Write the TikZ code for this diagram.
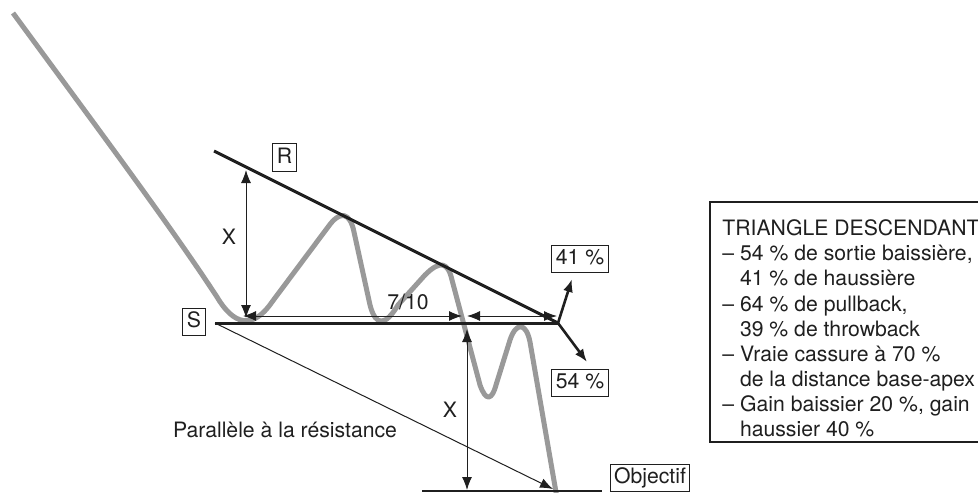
\documentclass[tikz,border=0pt]{standalone}
\usepackage{fontspec}
\setmainfont{TeX Gyre Heros}
\usepackage{xcolor}
\usetikzlibrary{arrows.meta,positioning}

\definecolor{pricegray}{gray}{0.6}
\definecolor{inkblack}{gray}{0.12}

\begin{document}
\begin{tikzpicture}[x=0.5pt,y=-0.5pt,color=inkblack,
  font=\fontsize{10.6}{12.55}\selectfont,
  >={Latex[length=6.5pt,width=5pt]},
  tag/.style={draw,line width=0.5pt,inner xsep=2pt,inner ysep=2pt,text height=7.6pt,text depth=2pt},
  dim/.style={line width=0.5pt,<->},
  trend/.style={line width=1.5pt},
  exit/.style={line width=1.3pt,->}]
  \useasboundingbox (0,0) rectangle (978,492);
  \clip (0,0) rectangle (978,492);

  % points of the figure
  \coordinate (res0) at (214,151);
  \coordinate (apex) at (558,323);
  \coordinate (sup0) at (215,323);
  \coordinate (xa1) at (246,170);
  \coordinate (xa2) at (246,318);
  \coordinate (h1) at (243,316);
  \coordinate (h2) at (462,316);
  \coordinate (h3) at (467,316);
  \coordinate (h4) at (557,316);
  \coordinate (xb1) at (467,329);
  \coordinate (xb2) at (467,490);
  \coordinate (target) at (553,489);
  \coordinate (obj0) at (422,491);
  \coordinate (obj1) at (602,491);
  \coordinate (up) at (572,279);
  \coordinate (down) at (587,362);

  % price
  \draw[pricegray,line width=2.5pt,line join=round]
    (13,13) .. controls (90,118) and (170,225) .. (217,297)
    .. controls (233,324) and (252,331) .. (272,302)
    -- (328,227) .. controls (340,210) and (350,212) .. (354,232)
    -- (370,305) .. controls (376,328) and (386,325) .. (398,305)
    -- (425,275) .. controls (440,260) and (448,262) .. (452,280)
    -- (480,385) .. controls (486,402) and (492,400) .. (496,385)
    -- (510,340) .. controls (516,322) and (526,322) .. (530,342)
    -- (557,498);

  \draw[trend] (res0) -- (apex);
  \draw[trend] (sup0) -- (apex);
  \draw[line width=0.5pt,->] (sup0) -- (target);
  \draw[line width=0.6pt] (obj0) -- (obj1);

  \draw[dim] (xa1) -- (xa2);
  \draw[dim] (h1) -- (h2);
  \draw[dim] (h3) -- (h4);
  \draw[dim] (xb1) -- (xb2);
  \draw[exit] (apex) -- (up);
  \draw[exit] (apex) -- (down);

  \node[tag] (R) at (284.5,157.5) {R};
  \node[tag] (S) at (194,322) {S};
  \node[tag] (hausse) at (580,259) {41 \%};
  \node[tag] (baisse) at (580,383) {54 \%};
  \node[tag] (objectif) at (650,478) {Objectif};
  \node (xleft) at (229,237) {X};
  \node (xright) at (450,410) {X};
  \node (frac) at (408,302) {7/10};
  \node (parallele) at (285,430) {Parallèle à la résistance};

  \draw[line width=0.6pt] (710,202) rectangle (1010,442);
  \node[anchor=north west,align=left,inner sep=0pt] (legend) at (722,219.5)
    {TRIANGLE DESCENDANT\\
     – 54 \% de sortie baissière,\\
     \hspace*{8.8pt}41 \% de haussière\\
     – 64 \% de pullback,\\
     \hspace*{8.8pt}39 \% de throwback\\
     – Vraie cassure à 70 \%\\
     \hspace*{8.8pt}de la distance base-apex\\
     – Gain baissier 20 \%, gain\\
     \hspace*{8.8pt}haussier 40 \%};
\end{tikzpicture}
\end{document}
